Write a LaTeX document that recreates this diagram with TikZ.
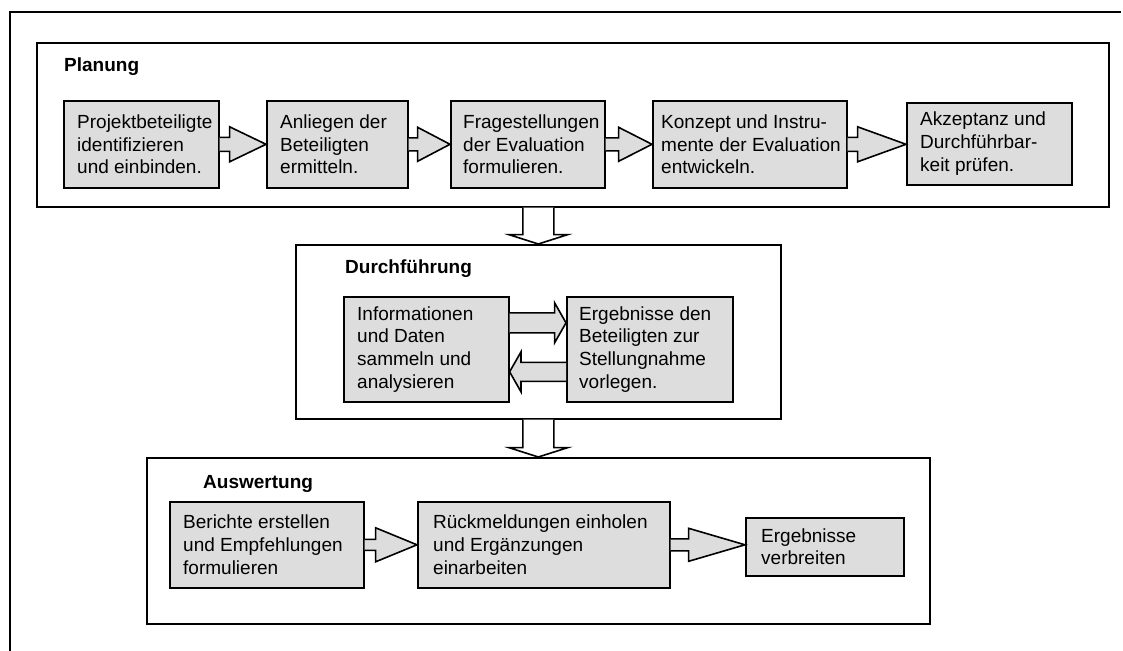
\documentclass[tikz,border=0pt]{standalone}
\usepackage{fontspec}
\setmainfont{Liberation Sans}
\usetikzlibrary{calc}
\definecolor{boxgray}{RGB}{221,221,221}
\tikzset{
  frameline/.style={draw, line width=1.6pt},
  groupbox/.style={draw, line width=1.6pt, rectangle, inner sep=0pt, anchor=north west},
  stepbox/.style={draw, line width=1.6pt, fill=boxgray, rectangle, inner sep=0pt, anchor=north west},
  txt/.style={inner sep=0pt, align=left, anchor=west, font=\fontsize{19}{22.8}\selectfont},
  ttl/.style={inner sep=0pt, anchor=base west, font=\bfseries\fontsize{19}{22.5}\selectfont},
  blockarrow/.style={draw, line width=1.6pt, fill=boxgray, line join=miter},
  downarrow/.style={draw, line width=1.6pt, fill=white, line join=miter},
}
% right-pointing block arrow: from, to, shaft length, shaft half, head half, y shift (pt, up)
\newcommand\rarrow[6]{%
  \draw[blockarrow] let \p1=(#1.east), \p2=(#2.west) in
    (\x1,\y1+#6pt+#4pt) -- (\x1+#3pt,\y1+#6pt+#4pt) -- (\x1+#3pt,\y1+#6pt+#5pt)
    -- (\x2,\y1+#6pt) -- (\x1+#3pt,\y1+#6pt-#5pt) -- (\x1+#3pt,\y1+#6pt-#4pt)
    -- (\x1,\y1+#6pt-#4pt);}
% left-pointing block arrow
\newcommand\larrow[6]{%
  \draw[blockarrow] let \p1=(#1.west), \p2=(#2.east) in
    (\x1,\y1+#6pt+#4pt) -- (\x1-#3pt,\y1+#6pt+#4pt) -- (\x1-#3pt,\y1+#6pt+#5pt)
    -- (\x2,\y1+#6pt) -- (\x1-#3pt,\y1+#6pt-#5pt) -- (\x1-#3pt,\y1+#6pt-#4pt)
    -- (\x1,\y1+#6pt-#4pt);}
% down-pointing block arrow (centred on target)
\newcommand\darrow[5]{%
  \draw[downarrow] let \p1=(#1.south), \p2=(#2.north) in
    (\x2-#4pt,\y1) -- (\x2-#4pt,\y1-#3pt) -- (\x2-#5pt,\y1-#3pt) -- (\x2,\y2)
    -- (\x2+#5pt,\y1-#3pt) -- (\x2+#4pt,\y1-#3pt) -- (\x2+#4pt,\y1);}
\begin{document}
\begin{tikzpicture}[x=1pt,y=-1pt]
\useasboundingbox (0,0) rectangle (1123,650);
% outer frame
\coordinate (fTR) at (1121,12);
\coordinate (fTL) at (10,12);
\coordinate (fBL) at (10,652);
\draw[frameline] (fTR) -- (fTL) -- (fBL);

% ---------- Planung ----------
\node[groupbox, minimum width=1072pt, minimum height=164pt] (planung) at (36,42) {};
\node[ttl] (tp) at (64,72) {Planung};
\node[stepbox, minimum width=155pt, minimum height=87pt] (b1) at (63,100) {};
\node[stepbox, minimum width=141pt, minimum height=87pt] (b2) at (266,100) {};
\node[stepbox, minimum width=154pt, minimum height=87pt] (b3) at (450,100) {};
\node[stepbox, minimum width=194pt, minimum height=87pt] (b4) at (652,100) {};
\node[stepbox, minimum width=165pt, minimum height=82pt] (b5) at (906,102) {};
\node[txt] (b1t) at ([xshift=14pt]b1.west) {Projektbeteiligte\\identifizieren\\und einbinden.};
\node[txt] (b2t) at ([xshift=14pt]b2.west) {Anliegen der\\Beteiligten\\ermitteln.};
\node[txt] (b3t) at ([xshift=13pt]b3.west) {Fragestellungen\\der Evaluation\\formulieren.};
\node[txt] (b4t) at ([xshift=9pt]b4.west) {Konzept und Instru-\\mente der Evaluation\\entwickeln.};
\node[txt] (b5t) at ([xshift=14pt]b5.west) {Akzeptanz und\\Durchführbar-\\keit prüfen.};
\rarrow{b1}{b2}{10}{7}{17.5}{0}
\rarrow{b2}{b3}{9}{6.5}{17}{0}
\rarrow{b3}{b4}{13}{6.5}{17}{0}
\rarrow{b4}{b5}{10}{7}{17.5}{0}

% ---------- Durchführung ----------
\node[groupbox, minimum width=485pt, minimum height=174pt] (durch) at (295,244) {};
\node[ttl] (td) at (345,273) {Durchführung};
\node[stepbox, minimum width=165pt, minimum height=105pt] (d1) at (343,296) {};
\node[stepbox, minimum width=166pt, minimum height=105pt] (d2) at (566,296) {};
\node[txt] (d1t) at ([xshift=14pt]d1.west) {Informationen\\und Daten\\sammeln und\\analysieren};
\node[txt] (d2t) at ([xshift=13pt]d2.west) {Ergebnisse den\\Beteiligten zur\\Stellungnahme\\vorlegen.};
\rarrow{d1}{d2}{45}{10}{20}{26.5}
\larrow{d2}{d1}{45}{9.5}{20}{-22.5}

% ---------- Auswertung ----------
\node[groupbox, minimum width=783pt, minimum height=166pt] (ausw) at (146,457) {};
\node[ttl] (ta) at (203,488) {Auswertung};
\node[stepbox, minimum width=194pt, minimum height=86pt] (a1) at (169,501) {};
\node[stepbox, minimum width=252pt, minimum height=86pt] (a2) at (417,501) {};
\node[stepbox, minimum width=158pt, minimum height=58pt] (a3) at (745,517) {};
\node[txt] (a1t) at ([xshift=14pt]a1.west) {Berichte erstellen\\und Empfehlungen\\formulieren};
\node[txt] (a2t) at ([xshift=16pt]a2.west) {Rückmeldungen einholen\\und Ergänzungen\\einarbeiten};
\node[txt] (a3t) at ([xshift=16pt]a3.west) {Ergebnisse\\verbreiten};
\rarrow{a1}{a2}{11}{5.5}{17}{0}
\rarrow{a2}{a3}{18}{6}{16.5}{0}

% ---------- down arrows ----------
\darrow{planung}{durch}{27}{15.5}{29.5}
\darrow{durch}{ausw}{28}{15.5}{29.5}
\end{tikzpicture}
\end{document}
